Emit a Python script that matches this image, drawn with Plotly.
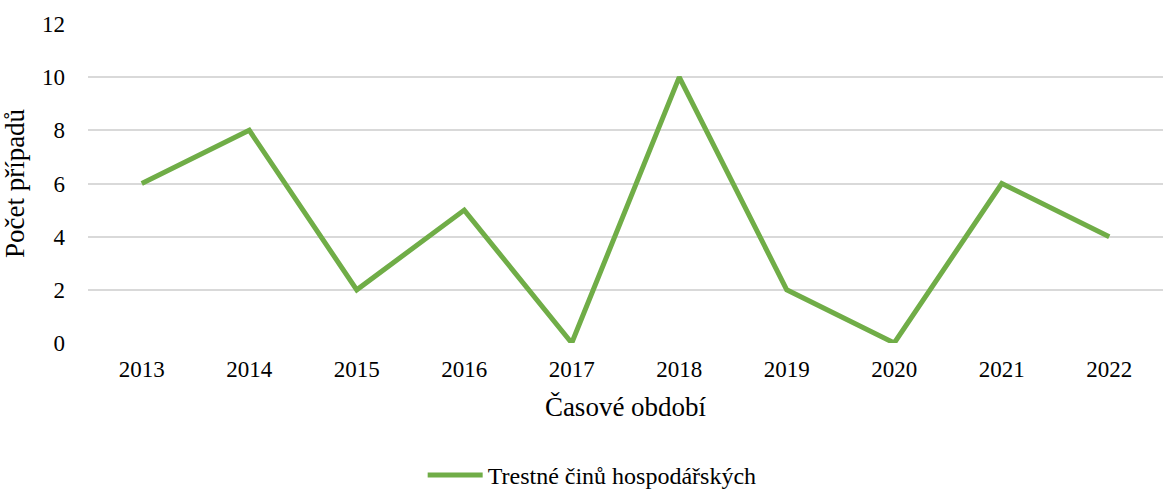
import plotly.graph_objects as go

years = ["2013", "2014", "2015", "2016", "2017", "2018", "2019", "2020", "2021", "2022"]
cases = [6, 8, 2, 5, 0, 10, 2, 0, 6, 4]
series_name = "Trestné činů hospodářských"
y_ticks = [0, 2, 4, 6, 8, 10, 12]

fig = go.Figure()
fig.add_trace(go.Scatter(
    x=years, y=cases, mode="lines", name=series_name,
    line=dict(color="#70AD47", width=5), cliponaxis=False,
))

tick_font = dict(family="Liberation Serif", size=23, color="black")
title_font = dict(family="Liberation Serif", size=27, color="black")
legend_font = dict(family="Liberation Serif", size=24, color="black")
fig.update_layout(
    width=1164, height=489,
    margin=dict(l=88, r=1, t=24, b=146, autoexpand=False),
    paper_bgcolor="white", plot_bgcolor="white",
    font=tick_font,
    showlegend=True,
    legend=dict(orientation="h", x=0.469, xanchor="center", y=-0.415, yanchor="middle",
                font=legend_font, itemwidth=55),
    xaxis=dict(type="category", range=[-0.5, 9.5], showgrid=False, zeroline=False,
               showline=False, ticks="", tickfont=tick_font, automargin=False,
               ticklabelstandoff=10,
               title=dict(text="Časové období", font=title_font, standoff=16)),
    yaxis=dict(range=[0, 12], tickvals=y_ticks, showgrid=True, gridcolor="#d9d9d9",
               gridwidth=1.5, zeroline=False, showline=False, ticks="",
               tickfont=tick_font, ticklabelstandoff=22, automargin=True,
               title=dict(text="Počet případů", font=title_font, standoff=18)),
)
fig.write_html("out.html", post_script="document.body.style.margin='0';",
               config={"displayModeBar": False})
